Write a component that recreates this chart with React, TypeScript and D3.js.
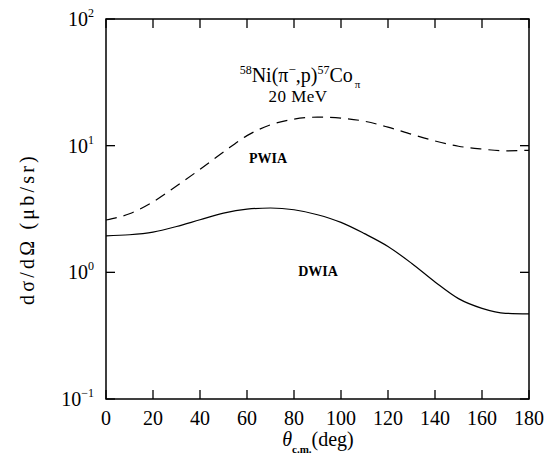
import React from "react";
import * as d3 from "d3";

const angles = [0, 10, 20, 30, 40, 50, 60, 70, 80, 90, 100, 110, 120, 130, 140, 150, 160, 170, 180];
const pwia = [2.59, 2.9, 3.6, 4.8, 6.5, 8.9, 12.0, 14.6, 16.2, 16.8, 16.5, 15.6, 14.0, 12.3, 10.9, 9.9, 9.4, 9.1, 9.2];
const dwia = [1.94, 1.98, 2.08, 2.3, 2.6, 2.93, 3.15, 3.22, 3.12, 2.85, 2.48, 2.02, 1.6, 1.18, 0.84, 0.62, 0.52, 0.475, 0.47];
const xTicks = [0, 20, 40, 60, 80, 100, 120, 140, 160, 180];
const yTicks = [0.1, 1, 10, 100];
const yExp = ["\u22121", "0", "1", "2"];

const L = 106, R = 529, T = 19, B = 399;

export default function App() {
  const x = d3.scaleLinear().domain([0, 180]).range([L, R]);
  const y = d3.scaleLog().domain([0.1, 100]).range([B, T]);
  const line = d3
    .line<number>()
    .x((_, i) => x(angles[i]))
    .y((d) => y(d))
    .curve(d3.curveMonotoneX);
  const serif = "'Liberation Serif', 'DejaVu Serif', serif";
  return (
    <svg width={547} height={463} style={{ position: "absolute", left: 0, top: 0, background: "#fff" }}>
      <rect x={0} y={0} width={547} height={463} fill="#fff" />
      <rect x={L} y={T} width={R - L} height={B - T} fill="none" stroke="#000" strokeWidth={1.5} />
      {xTicks.map((t) => (
        <g key={"x" + t}>
          <line x1={x(t)} x2={x(t)} y1={B} y2={B - 9} stroke="#000" strokeWidth={1.3} />
          <line x1={x(t)} x2={x(t)} y1={T} y2={T + 9} stroke="#000" strokeWidth={1.3} />
          <text x={x(t)} y={425} textAnchor="middle" fontFamily={serif} fontSize={20}>
            {t}
          </text>
        </g>
      ))}
      {yTicks.map((t, i) => (
        <g key={"y" + t}>
          <line x1={L} x2={L + 9} y1={y(t)} y2={y(t)} stroke="#000" strokeWidth={1.3} />
          <line x1={R} x2={R - 9} y1={y(t)} y2={y(t)} stroke="#000" strokeWidth={1.3} />
          <text x={94} y={y(t) + 7} textAnchor="end" fontFamily={serif} fontSize={20}>
            10
            <tspan dy={-9} fontSize={12}>
              {yExp[i]}
            </tspan>
          </text>
        </g>
      ))}
      <path d={line(pwia) || ""} fill="none" stroke="#000" strokeWidth={1.2} strokeDasharray="11 7" />
      <path d={line(dwia) || ""} fill="none" stroke="#000" strokeWidth={1.2} />
      <text x={268} y={163} textAnchor="middle" fontFamily={serif} fontWeight="bold" fontSize={14}>
        PWIA
      </text>
      <text x={318} y={276} textAnchor="middle" fontFamily={serif} fontWeight="bold" fontSize={14}>
        DWIA
      </text>
      <text x={300} y={82} textAnchor="middle" fontFamily={serif} fontSize={20}>
        <tspan dy={-8} fontSize={12}>58</tspan>
        <tspan dy={8}>Ni(π</tspan>
        <tspan dy={-8} fontSize={13}>−</tspan>
        <tspan dy={8}>,p)</tspan>
        <tspan dy={-8} fontSize={12}>57</tspan>
        <tspan dy={8}>Co</tspan>
        <tspan dy={6} fontSize={11} dx={2}>π</tspan>
      </text>
      <text x={298} y={102} textAnchor="middle" fontFamily={serif} fontSize={17} letterSpacing={0.5}>
        20 MeV
      </text>
      <text x={318} y={446} textAnchor="middle" fontFamily={serif} fontSize={20}>
        <tspan fontStyle="italic">θ</tspan>
        <tspan dy={7} fontSize={11} fontWeight="bold">c.m.</tspan>
        <tspan dy={-7}>(deg)</tspan>
      </text>
      <text
        transform="translate(34,229) rotate(-90)"
        textAnchor="middle"
        fontFamily={serif}
        fontSize={20}
        letterSpacing={3.2}
      >
        dσ/dΩ  (μb/sr)
      </text>
    </svg>
  );
}
